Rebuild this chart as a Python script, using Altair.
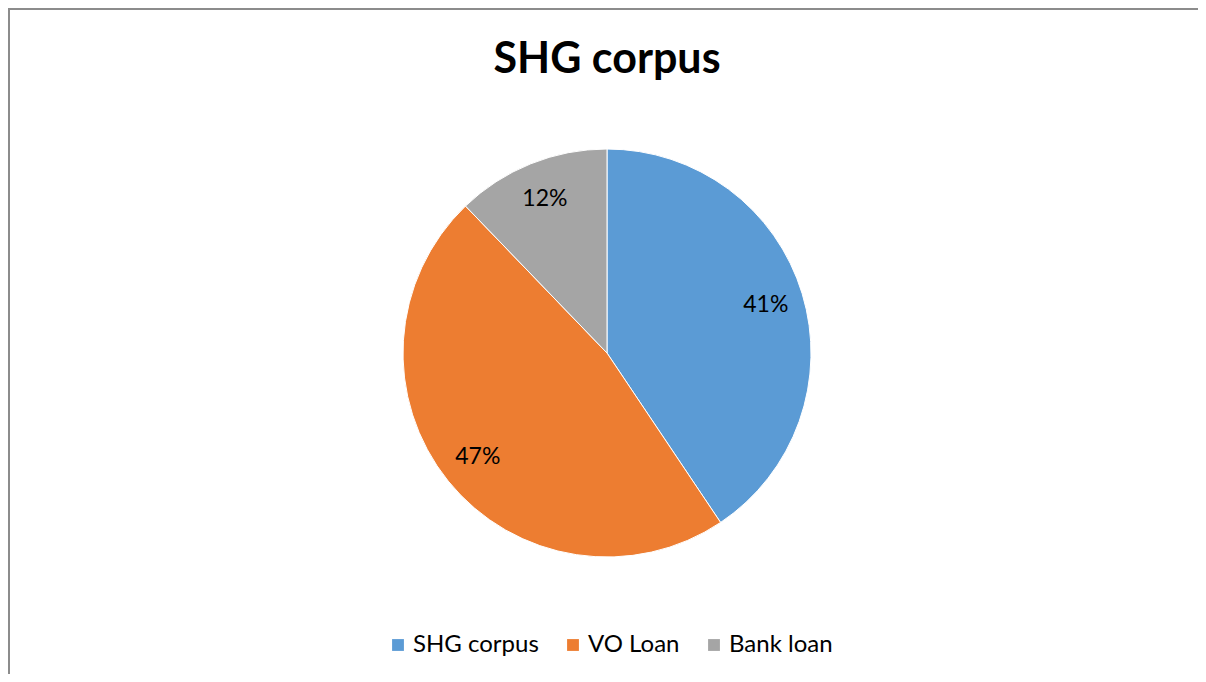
import altair as alt
import pandas as pd

categories = ["SHG corpus", "VO Loan", "Bank loan"]
values = [40.6, 47.2, 12.2]
labels = ["41%", "47%", "12%"]
colors = ["#5B9BD5", "#ED7D31", "#A5A5A5"]
title_text = ["SHG corpus"]

df = pd.DataFrame({"category": categories, "value": values, "label": labels,
                   "idx": list(range(len(categories)))})

W, H = 1190, 666
CX, CY = 599, 345

base = alt.Chart(df).encode(
    theta=alt.Theta("value:Q", stack=True),
    order=alt.Order("idx:O"),
)

arcs = base.mark_arc(outerRadius=204, stroke="white", strokeWidth=1).encode(
    x=alt.value(CX), y=alt.value(CY),
    color=alt.Color(
        "category:N",
        scale=alt.Scale(domain=categories, range=colors),
        sort=categories,
        legend=alt.Legend(
            title=None, orient="none", direction="horizontal",
            legendX=378, legendY=625,
            symbolType="square", symbolSize=140, symbolStrokeWidth=0,
            labelFont="Lato", labelFontSize=24, labelColor="#000000",
            labelOffset=3, columnPadding=22, symbolOpacity=1,
        ),
    ),
)
texts = base.mark_text(radius=166, font="Lato", fontSize=23).encode(
    text="label:N", x=alt.value(CX), y=alt.value(CY), color=alt.value("black")
)

title = alt.Chart(pd.DataFrame({"t": title_text})).mark_text(
    font="Lato", fontSize=43, fontWeight="bold", color="black",
    align="center", baseline="alphabetic"
).encode(text="t:N", x=alt.value(CX), y=alt.value(65))

one = pd.DataFrame({"t": title_text})
top_rule = alt.Chart(one).mark_rule(stroke="#8c8c8c", strokeWidth=2).encode(
    x=alt.value(0), x2=alt.value(W), y=alt.value(1)
)
left_rule = alt.Chart(one).mark_rule(stroke="#8c8c8c", strokeWidth=2).encode(
    x=alt.value(1), y=alt.value(0), y2=alt.value(H)
)

chart = alt.layer(top_rule, left_rule, arcs, texts, title).properties(
    width=W, height=H, padding=0,
    autosize=alt.AutoSizeParams(type="none"),
).configure_view(stroke=None).configure(background="white")

chart.save("out.html", embed_options={"renderer": "svg", "actions": False})
